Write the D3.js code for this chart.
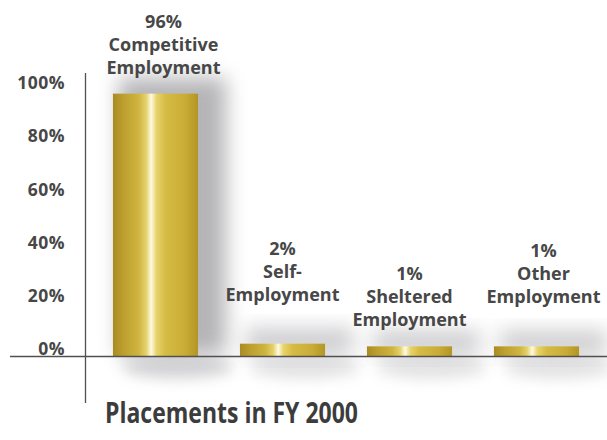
<!DOCTYPE html>
<html>
<head>
<meta charset="utf-8">
<script src="https://cdn.jsdelivr.net/npm/d3@7"></script>
<style>
  html, body { margin: 0; padding: 0; background: #ffffff; }
  svg { display: block; }
  text { font-family: "Open Sans", "DejaVu Sans", sans-serif; }
</style>
</head>
<body>
<svg id="chart" width="607" height="440"></svg>
<script>
// Placement outcomes, fiscal year 2000
const categories = ["Competitive Employment", "Self-Employment", "Sheltered Employment", "Other Employment"];
const values = [96, 2, 1, 1];
const nameLines = [
  ["Competitive", "Employment"],
  ["Self-", "Employment"],
  ["Sheltered", "Employment"],
  ["Other", "Employment"]
];
const yTicks = [0, 20, 40, 60, 80, 100];
const title = "Placements in FY 2000";

// ---- layout ----
const W = 607, H = 440;
const baselineY = 356.5;
const axisX = 85.5;
const lineH = 23;
const labelDx = [8, 0, 0, 7];

const svg = d3.select("#chart");
const defs = svg.append("defs");

// metallic gold across each bar's width
const gold = defs.append("linearGradient")
  .attr("id", "gold").attr("x1", 0).attr("x2", 1).attr("y1", 0).attr("y2", 0);
[
  [0.00, "#a98b24"],
  [0.12, "#bc9f2e"],
  [0.30, "#cfb440"],
  [0.39, "#e4d26c"],
  [0.45, "#fffbe2"],
  [0.51, "#e8d46c"],
  [0.62, "#d5bb44"],
  [0.85, "#c9ac36"],
  [1.00, "#b29524"]
].forEach(([o, c]) => gold.append("stop").attr("offset", o).attr("stop-color", c));

const blurBig = defs.append("filter").attr("id", "soft")
  .attr("x", "-50%").attr("y", "-50%").attr("width", "200%").attr("height", "200%");
blurBig.append("feGaussianBlur").attr("stdDeviation", 10);

const blurSmall = defs.append("filter").attr("id", "softer")
  .attr("x", "-50%").attr("y", "-100%").attr("width", "200%").attr("height", "300%");
blurSmall.append("feGaussianBlur").attr("stdDeviation", 7);

// ---- scales ----
const x = d3.scaleBand()
  .domain(categories)
  .range([92, 600])
  .paddingInner(0.33)
  .paddingOuter(0.165);

const y = d3.scaleLinear().domain([0, 100]).range([349, 83]);

const data = categories.map((c, i) => ({ c, v: values[i], i }));

// ---- shadows ----
const shadows = svg.append("g");
shadows.selectAll("rect.drop")
  .data(data).join("rect")
  .attr("class", "drop")
  .attr("x", d => x(d.c) + 6)
  .attr("y", d => y(d.v) - 16)
  .attr("width", x.bandwidth() + 22)
  .attr("height", d => baselineY - y(d.v) + 14)
  .attr("fill", "#84848a")
  .attr("opacity", d => d.v > 10 ? 0.6 : 0.4)
  .attr("filter", "url(#soft)");

shadows.selectAll("ellipse.under")
  .data(data).join("ellipse")
  .attr("class", "under")
  .attr("cx", d => x(d.c) + x.bandwidth() / 2 + 22)
  .attr("cy", baselineY + 11)
  .attr("rx", d => x.bandwidth() * 0.65)
  .attr("ry", 11)
  .attr("fill", "#a0a0a6")
  .attr("opacity", d => d.v > 10 ? 0.45 : 0.3)
  .attr("filter", "url(#softer)");

// ---- bars ----
svg.append("g").selectAll("rect")
  .data(data).join("rect")
  .attr("x", d => x(d.c))
  .attr("y", d => y(d.v))
  .attr("width", x.bandwidth())
  .attr("height", d => baselineY - 0.5 - y(d.v))
  .attr("fill", "url(#gold)");

// ---- axis lines ----
svg.append("line")
  .attr("x1", 10).attr("x2", W)
  .attr("y1", baselineY).attr("y2", baselineY)
  .attr("stroke", "#505050").attr("stroke-width", 1.6);

svg.append("line")
  .attr("x1", axisX).attr("x2", axisX)
  .attr("y1", 73).attr("y2", 403)
  .attr("stroke", "#505050").attr("stroke-width", 1.3);

// ---- tick labels ----
const yAxis = d3.axisLeft(y)
  .tickValues(yTicks)
  .tickFormat(d => d + "%")
  .tickSizeInner(0).tickSizeOuter(0).tickPadding(0);

const ga = svg.append("g").attr("transform", "translate(65,0)").call(yAxis);
ga.select(".domain").remove();
ga.selectAll("text")
  .attr("font-family", "'Open Sans', sans-serif")
  .attr("font-size", 17.5)
  .attr("font-weight", 700)
  .attr("fill", "#474747")
  .attr("letter-spacing", 0.5);

// ---- bar labels ----
const labels = svg.append("g")
  .attr("font-size", 18)
  .attr("font-weight", 700)
  .attr("fill", "#474747")
  .attr("text-anchor", "middle");

data.forEach(d => {
  const lines = [d.v + "%", ...nameLines[d.i]];
  const lift = d.i % 2 === 1 ? lineH : 0;
  const bottom = y(d.v) - 20 - lift;
  const cx = x(d.c) + x.bandwidth() / 2 + labelDx[d.i];
  lines.forEach((t, k) => {
    labels.append("text")
      .attr("x", cx)
      .attr("y", bottom - (lines.length - 1 - k) * lineH)
      .text(t);
  });
});

// ---- title ----
svg.append("text")
  .attr("x", 105)
  .attr("y", 423)
  .attr("font-size", 28.5)
  .attr("font-weight", 700)
  .attr("fill", "#3c3c3c")
  .attr("textLength", 253)
  .attr("lengthAdjust", "spacingAndGlyphs")
  .text(title);
</script>
</body>
</html>
